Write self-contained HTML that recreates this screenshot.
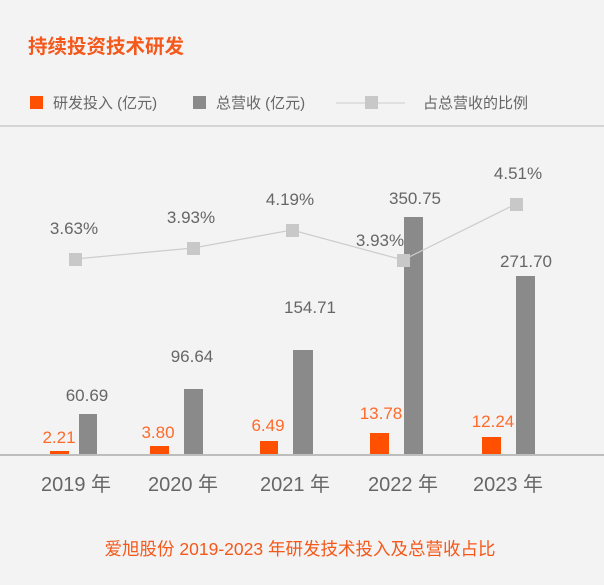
<!DOCTYPE html>
<html><head><meta charset="utf-8"><style>
html,body{margin:0;padding:0;background:#f3f3f3;}
svg{display:block;font-family:"Liberation Sans","Noto Sans CJK SC",sans-serif;}
</style></head><body>
<svg width="604" height="585" viewBox="0 0 604 585">
<rect width="604" height="585" fill="#f3f3f3"/>
<text x="28" y="53" font-size="19.5" font-weight="bold" fill="#f4581a">持续投资技术研发</text>
<rect x="30" y="96" width="13" height="13" fill="#fe5000"/>
<text x="53" y="108" font-size="15" fill="#666">研发投入 (亿元)</text>
<rect x="193" y="96" width="13" height="13" fill="#8a8a8a"/>
<text x="216" y="108" font-size="15" fill="#666">总营收 (亿元)</text>
<line x1="336" y1="103" x2="405" y2="103" stroke="#ccc" stroke-width="1"/>
<rect x="365" y="96" width="13" height="13" fill="#c8c8c8"/>
<text x="423" y="108" font-size="15" fill="#666">占总营收的比例</text>
<rect x="0" y="125" width="604" height="2" fill="#d4d4d4"/>
<g fill="#fe5000">
<rect x="50" y="451" width="19" height="4"/>
<rect x="150" y="446" width="19" height="9"/>
<rect x="260" y="441" width="18" height="14"/>
<rect x="370" y="433" width="19" height="22"/>
<rect x="482" y="437" width="19" height="18"/>
</g>
<g fill="#8a8a8a">
<rect x="79" y="414" width="18" height="41"/>
<rect x="184" y="389" width="19" height="66"/>
<rect x="293" y="350" width="20" height="105"/>
<rect x="404" y="217" width="19" height="238"/>
<rect x="516" y="276" width="19" height="179"/>
</g>
<rect x="0" y="454" width="604" height="2" fill="#bdbdbd"/>
<polyline points="75,259 193,248 292,230 403,260 516,204" fill="none" stroke="#ccc" stroke-width="1.2"/>
<g fill="#c8c8c8">
<rect x="69" y="253" width="13" height="13"/>
<rect x="187" y="242" width="13" height="13"/>
<rect x="286" y="224" width="13" height="13"/>
<rect x="397" y="254" width="13" height="13"/>
<rect x="510" y="198" width="13" height="13"/>
</g>
<g font-size="17" fill="#666" text-anchor="middle">
<text x="74" y="234">3.63%</text>
<text x="191" y="223">3.93%</text>
<text x="290" y="205">4.19%</text>
<text x="380" y="246">3.93%</text>
<text x="518" y="179">4.51%</text>
<text x="87" y="401">60.69</text>
<text x="192" y="362">96.64</text>
<text x="310" y="313">154.71</text>
<text x="415" y="204">350.75</text>
<text x="526" y="267">271.70</text>
</g>
<g font-size="17" fill="#fe6a2a" text-anchor="middle">
<text x="59" y="443">2.21</text>
<text x="158" y="438">3.80</text>
<text x="268" y="431">6.49</text>
<text x="381" y="419">13.78</text>
<text x="493" y="427">12.24</text>
</g>
<g font-size="20" fill="#666" text-anchor="middle">
<text x="76" y="491">2019 年</text>
<text x="183" y="491">2020 年</text>
<text x="295" y="491">2021 年</text>
<text x="403" y="491">2022 年</text>
<text x="508" y="491">2023 年</text>
</g>
<text x="300" y="555" font-size="17.5" fill="#f4581a" text-anchor="middle">爱旭股份 2019-2023 年研发技术投入及总营收占比</text>
</svg>
</body></html>
